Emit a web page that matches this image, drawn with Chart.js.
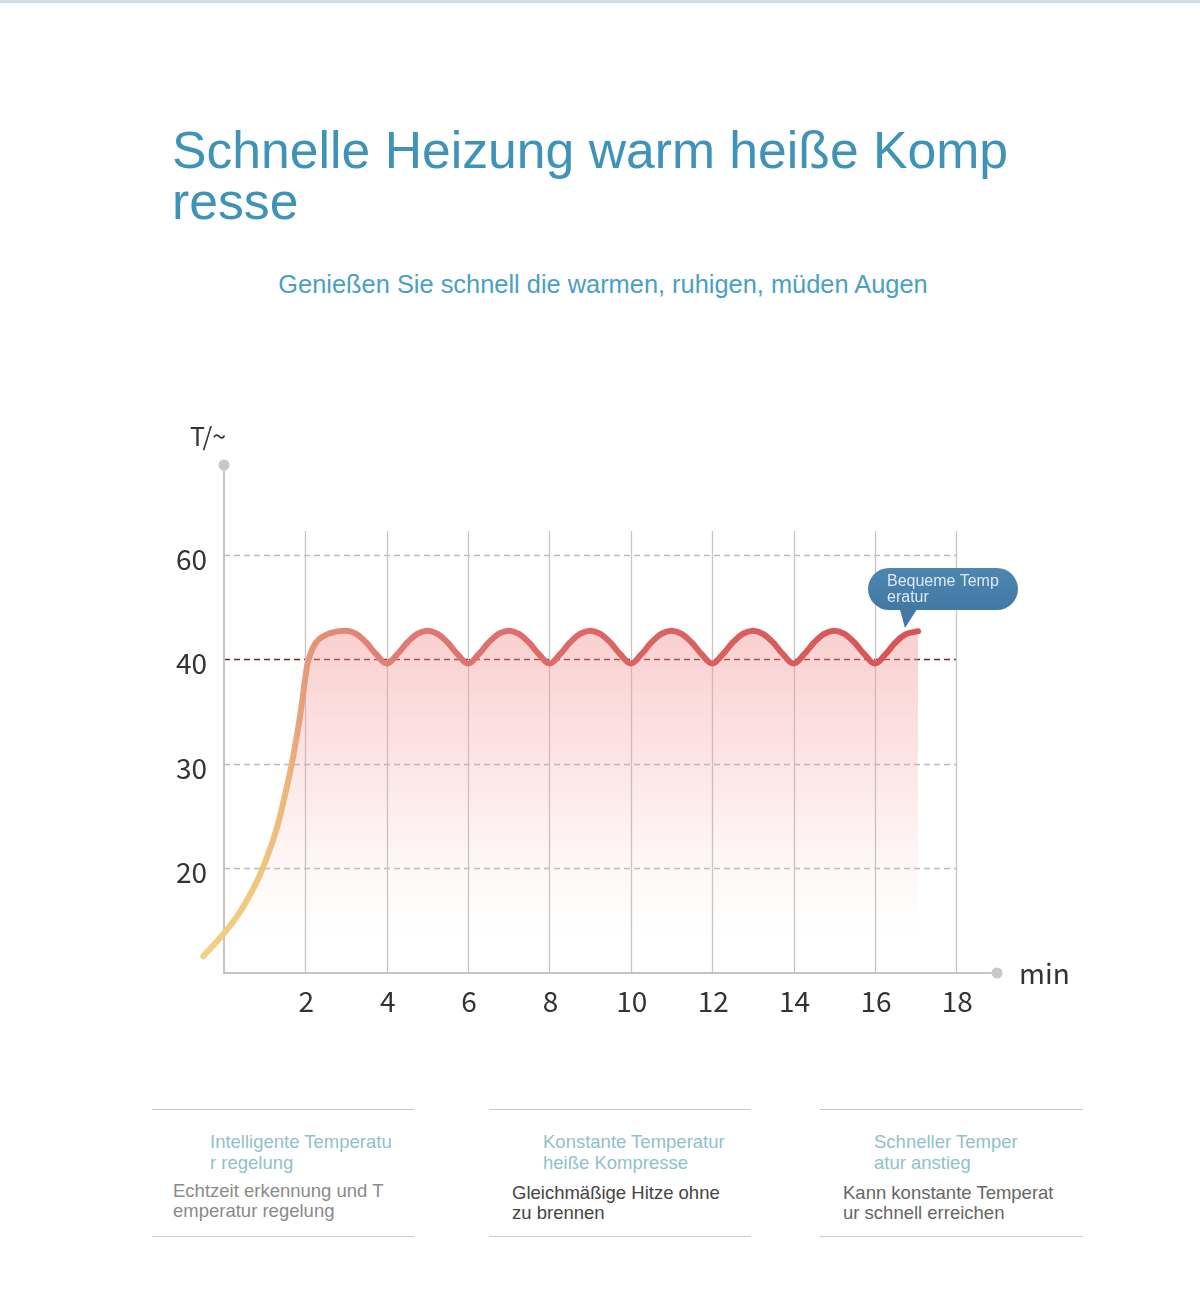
<!DOCTYPE html>
<html>
<head>
<meta charset="utf-8">
<script src="https://cdn.jsdelivr.net/npm/chart.js@4.4.1/dist/chart.umd.min.js"></script>
<style>
html,body{margin:0;padding:0;background:#fff;}
body{width:1200px;height:1297px;position:relative;overflow:hidden;font-family:"Liberation Sans",Arial,sans-serif;}
.topbar{position:absolute;left:0;top:0;width:1200px;height:3px;background:#d3dbe3;}
.title{position:absolute;left:172px;top:125px;font-size:51.7px;line-height:51px;color:#3f93b9;white-space:nowrap;}
.sub{position:absolute;left:0;width:1206px;top:270px;text-align:center;font-size:25.4px;line-height:28px;color:#4a9fc5;white-space:nowrap;}
#wrap{position:absolute;left:0;top:400px;width:1200px;height:650px;}
.axlab{position:absolute;font-family:"Noto Sans CJK SC","Noto Sans",sans-serif;color:#333;line-height:1;white-space:nowrap;}
.bubble{position:absolute;left:868px;top:568px;width:150px;height:42px;border-radius:21px;background:linear-gradient(180deg,#4d86af,#4179a5);box-sizing:border-box;padding:5px 0 0 19px;font-size:16px;line-height:16px;color:#dce9f4;}
.ptr{position:absolute;left:899px;top:606px;width:20px;height:22px;background:#4379a4;clip-path:polygon(0 0,100% 0,30% 100%);}
.rule{position:absolute;height:0;border-top:1.5px solid #c9c9c9;}
.h{position:absolute;font-size:18.5px;line-height:21px;color:#8fc1cc;white-space:nowrap;}
.b{position:absolute;font-size:18.5px;line-height:19.5px;white-space:nowrap;}
</style>
</head>
<body>
<div class="topbar"></div>
<div class="title">Schnelle Heizung warm heiße Komp<br>resse</div>
<div class="sub">Genießen Sie schnell die warmen, ruhigen, müden Augen</div>

<div id="wrap"><canvas id="c"></canvas></div>

<div class="axlab" style="left:190px;top:423px;font-size:25px;">T/~</div>
<div class="axlab" style="left:1019px;top:958px;font-size:28px;">min</div>

<div class="bubble">Bequeme Temp<br>eratur</div>
<div class="ptr"></div>

<div class="rule" style="left:152px;width:262px;top:1109px;"></div>
<div class="rule" style="left:152px;width:262px;top:1236px;"></div>
<div class="rule" style="left:489px;width:262px;top:1109px;"></div>
<div class="rule" style="left:489px;width:262px;top:1236px;"></div>
<div class="rule" style="left:820px;width:263px;top:1109px;"></div>
<div class="rule" style="left:820px;width:263px;top:1236px;"></div>

<div class="h" style="left:210px;top:1131px;">Intelligente Temperatu<br>r regelung</div>
<div class="b" style="left:173px;top:1181px;color:#8a8a8a;">Echtzeit erkennung und T<br>emperatur regelung</div>

<div class="h" style="left:543px;top:1131px;">Konstante Temperatur<br>heiße Kompresse</div>
<div class="b" style="left:512px;top:1183px;color:#444;">Gleichmäßige Hitze ohne<br>zu brennen</div>

<div class="h" style="left:874px;top:1131px;">Schneller Temper<br>atur anstieg</div>
<div class="b" style="left:843px;top:1183px;color:#666;">Kann konstante Temperat<br>ur schnell erreichen</div>

<script>
// ---- data ----
const minutes = [-0.51, 0, 0.4, 0.8, 1.05, 1.3, 1.55, 1.7, 1.87, 2.0, 2.08, 2.28, 2.6, 3.0,
  3.25, 3.5, 3.75, 4.0,
  4.25, 4.5, 4.75, 5.0, 5.25, 5.5, 5.75, 6.0,
  6.25, 6.5, 6.75, 7.0, 7.25, 7.5, 7.75, 8.0,
  8.25, 8.5, 8.75, 9.0, 9.25, 9.5, 9.75, 10.0,
  10.25, 10.5, 10.75, 11.0, 11.25, 11.5, 11.75, 12.0,
  12.25, 12.5, 12.75, 13.0, 13.25, 13.5, 13.75, 14.0,
  14.25, 14.5, 14.75, 15.0, 15.25, 15.5, 15.75, 16.0,
  16.25, 16.5, 16.75, 17.06];
const temps = [11.6, 13.8, 15.9, 18.7, 21.0, 23.9, 27.9, 30.7, 34.6, 38.3, 40.0, 43.4, 45.0, 45.5,
  44.9, 43.2, 40.9, 39.6,
  40.9, 43.2, 44.9, 45.5, 44.9, 43.2, 40.9, 39.6,
  40.9, 43.2, 44.9, 45.5, 44.9, 43.2, 40.9, 39.6,
  40.9, 43.2, 44.9, 45.5, 44.9, 43.2, 40.9, 39.6,
  40.9, 43.2, 44.9, 45.5, 44.9, 43.2, 40.9, 39.6,
  40.9, 43.2, 44.9, 45.5, 44.9, 43.2, 40.9, 39.6,
  40.9, 43.2, 44.9, 45.5, 44.9, 43.2, 40.9, 39.6,
  40.9, 43.2, 44.8, 45.4];
const xTicks = [2, 4, 6, 8, 10, 12, 14, 16, 18];
const yTicks = [20, 30, 40, 60];
const referenceTemp = 40;

// piecewise temperature axis: 10-40 at 10 per step, 40-60 at 20 per step
const posOf = T => T <= 40 ? (T - 10) / 10 : 3 + (T - 40) / 20;
const tOf = p => p <= 3 ? 10 + p * 10 : 40 + (p - 3) * 20;

class TempScale extends Chart.LinearScale {
  static id = 'temp';
  static defaults = {};
  getPixelForValue(v) {
    if (v === null || v === undefined) return NaN;
    const p0 = posOf(this.min), p1 = posOf(this.max);
    return this.getPixelForDecimal((posOf(v) - p0) / (p1 - p0));
  }
  getValueForPixel(px) {
    const p0 = posOf(this.min), p1 = posOf(this.max);
    return tOf(p0 + this.getDecimalForPixel(px) * (p1 - p0));
  }
}
Chart.register(TempScale);

const gridPlugin = {
  id: 'customGrid',
  beforeDatasetsDraw(chart) {
    const {ctx, scales: {x, y}} = chart;
    const x0 = x.getPixelForValue(0), x18 = x.getPixelForValue(18), xEnd = x.right;
    const yBase = y.bottom, yTop = y.top;
    ctx.save();
    ctx.lineWidth = 1.3;
    yTicks.forEach(v => {
      const py = Math.round(y.getPixelForValue(v)) + 0.5;
      ctx.beginPath();
      ctx.setLineDash([6, 4]);
      ctx.strokeStyle = v === referenceTemp ? '#6e2a2a' : '#bcbcbc';
      ctx.moveTo(x0, py); ctx.lineTo(x18, py); ctx.stroke();
    });
    ctx.setLineDash([]);
    const vTop = y.getPixelForValue(60) - 24;
    ctx.strokeStyle = '#c6c6c6';
    xTicks.forEach(v => {
      const px = Math.round(x.getPixelForValue(v)) + 0.5;
      ctx.beginPath(); ctx.moveTo(px, vTop); ctx.lineTo(px, yBase); ctx.stroke();
    });
    ctx.strokeStyle = '#c4c4c4'; ctx.lineWidth = 2;
    ctx.beginPath(); ctx.moveTo(x0, yTop); ctx.lineTo(x0, yBase); ctx.lineTo(xEnd, yBase); ctx.stroke();
    ctx.fillStyle = '#c8c8c8';
    ctx.beginPath(); ctx.arc(x0, yTop, 5.5, 0, Math.PI * 2); ctx.fill();
    ctx.beginPath(); ctx.arc(xEnd, yBase, 5.5, 0, Math.PI * 2); ctx.fill();
    ctx.restore();
  }
};

function lineGrad(context) {
  const chart = context.chart;
  const {ctx, chartArea, scales} = chart;
  if (!chartArea) return '#d95c5c';
  const x = scales.x;
  const g = ctx.createLinearGradient(x.getPixelForValue(-0.5), 0, x.getPixelForValue(17), 0);
  g.addColorStop(0, '#f3d083');
  g.addColorStop(0.086, '#efc57c');
  g.addColorStop(0.12, '#ecb47a');
  g.addColorStop(0.143, '#e69a78');
  g.addColorStop(0.175, '#e28a77');
  g.addColorStop(0.32, '#de7672');
  g.addColorStop(0.6, '#da6464');
  g.addColorStop(1, '#d65555');
  return g;
}
function fillGrad(context) {
  const chart = context.chart;
  const {ctx, chartArea, scales} = chart;
  if (!chartArea) return 'rgba(244,150,150,0.3)';
  const y = scales.y;
  const g = ctx.createLinearGradient(0, y.getPixelForValue(45.5), 0, y.getPixelForValue(13.5));
  g.addColorStop(0, 'rgba(244,150,150,0.46)');
  g.addColorStop(0.44, 'rgba(244,150,150,0.24)');
  g.addColorStop(0.78, 'rgba(244,150,150,0.07)');
  g.addColorStop(1, 'rgba(244,150,150,0)');
  return g;
}

const tickFont = {family: '"Noto Sans CJK SC","Noto Sans",sans-serif', size: 28};

new Chart(document.getElementById('c'), {
  type: 'line',
  data: {
    datasets: [{
      data: minutes.map((m, i) => ({x: m, y: temps[i]})),
      borderColor: lineGrad,
      backgroundColor: fillGrad,
      borderWidth: 6,
      borderCapStyle: 'round',
      borderJoinStyle: 'round',
      tension: 0.4,
      pointRadius: 0,
      fill: 'origin',
      clip: false
    }]
  },
  options: {
    responsive: true,
    maintainAspectRatio: false,
    animation: false,
    devicePixelRatio: 1,
    events: [],
    layout: {padding: {left: 164, right: 203, top: 65, bottom: 17}},
    plugins: {legend: {display: false}, tooltip: {enabled: false}},
    scales: {
      x: {
        type: 'linear', min: 0, max: 19,
        grid: {display: false, drawTicks: false},
        border: {display: false},
        afterBuildTicks: s => { s.ticks = xTicks.map(v => ({value: v})); },
        afterFit: s => { s.height = 60; },
        ticks: {font: tickFont, color: '#333', padding: 12, maxRotation: 0, autoSkip: false, labelOffset: 1, callback: v => String(v)}
      },
      y: {
        type: 'temp', min: 10, max: tOf(4.86), bounds: 'data',
        grid: {display: false, drawTicks: false},
        border: {display: false},
        afterBuildTicks: s => { s.ticks = yTicks.map(v => ({value: v})); },
        afterFit: s => { s.width = 60; },
        ticks: {font: tickFont, color: '#333', padding: 17, autoSkip: false, labelOffset: 4, callback: v => String(v)}
      }
    }
  },
  plugins: [gridPlugin]
});
</script>
</body>
</html>
